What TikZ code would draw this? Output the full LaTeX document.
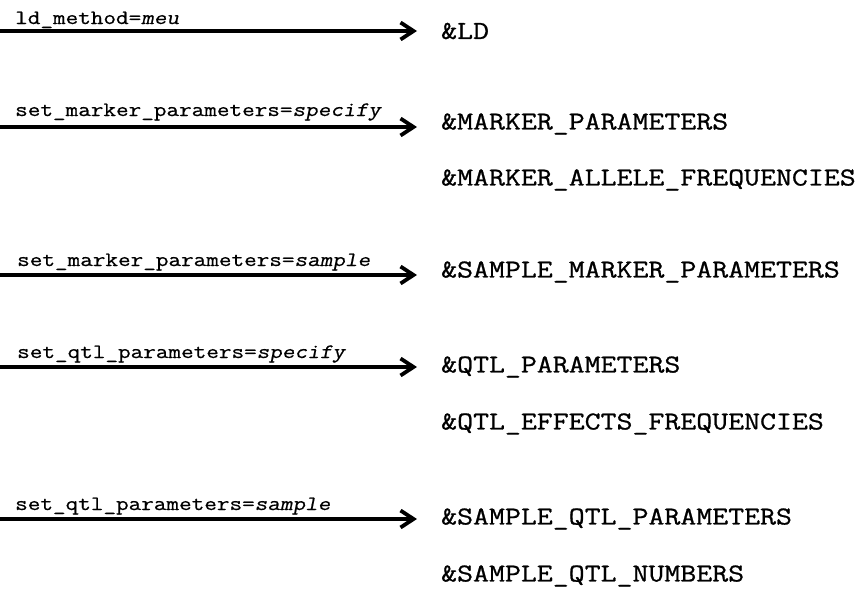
\documentclass[tikz,border=0pt]{standalone}
\usepackage{fontspec}
\newfontfamily\optfont{Latin Modern Mono}[FakeStretch=1.2,FakeBold=0.6,
  ItalicFont=Latin Modern Mono,ItalicFeatures={FakeSlant=0.2}]
\newfontfamily\blockfont{Latin Modern Mono}[FakeStretch=1.2,FakeBold=0.9]
\usetikzlibrary{arrows.meta}
\tikzset{
  flow/.style={line width=3.3pt, -{Straight Barb[length=13pt,width=17pt,line width=3.8pt]}},
  optlabel/.style={anchor=base west, inner sep=0pt, font=\optfont\fontsize{20.4}{24}\selectfont},
  block/.style={anchor=west, inner sep=0pt, font=\blockfont\fontsize{25.8}{30}\selectfont},
}
\begin{document}
\begin{tikzpicture}[x=1pt,y=-1pt]
  \useasboundingbox (0,0) rectangle (860,592);

  % arrow ends
  \coordinate (s1) at (0,31);
  \coordinate (s2) at (0,127);
  \coordinate (s3) at (0,275);
  \coordinate (s4) at (0,367);
  \coordinate (s5) at (0,519);
  \coordinate (e1) at (417,31);
  \coordinate (e2) at (417,127);
  \coordinate (e3) at (417,275);
  \coordinate (e4) at (417,367);
  \coordinate (e5) at (417,519);

  % option settings above the arrows
  \node[optlabel] (l1) at (15,24)  {ld\_method=\textit{meu}};
  \node[optlabel] (l2) at (15,116) {set\_marker\_parameters=\textit{specify}};
  \node[optlabel] (l3) at (17,266) {set\_marker\_parameters=\textit{sample}};
  \node[optlabel] (l4) at (17,358) {set\_qtl\_parameters=\textit{specify}};
  \node[optlabel] (l5) at (15,510) {set\_qtl\_parameters=\textit{sample}};

  % input blocks that each setting calls for
  \node[block] (b1) at (441,31)  {\&LD};
  \node[block] (b2) at (441,124) {\&MARKER\_PARAMETERS};
  \node[block] (b3) at (441,180) {\&MARKER\_ALLELE\_FREQUENCIES};
  \node[block] (b4) at (441,272) {\&SAMPLE\_MARKER\_PARAMETERS};
  \node[block] (b5) at (441,367) {\&QTL\_PARAMETERS};
  \node[block] (b6) at (441,424) {\&QTL\_EFFECTS\_FREQUENCIES};
  \node[block] (b7) at (441,519) {\&SAMPLE\_QTL\_PARAMETERS};
  \node[block] (b8) at (441,576) {\&SAMPLE\_QTL\_NUMBERS};

  % arrows
  \draw[flow] (s1) -- (e1);
  \draw[flow] (s2) -- (e2);
  \draw[flow] (s3) -- (e3);
  \draw[flow] (s4) -- (e4);
  \draw[flow] (s5) -- (e5);
\end{tikzpicture}
\end{document}
